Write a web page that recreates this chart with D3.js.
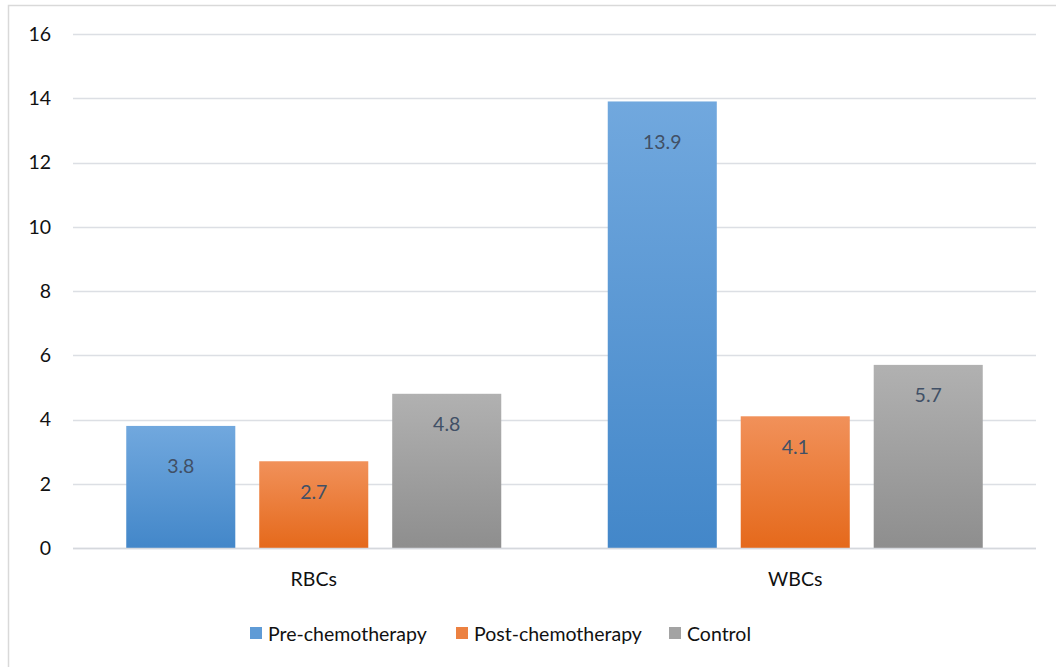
<!DOCTYPE html>
<html><head><meta charset="utf-8">
<script src="https://cdn.jsdelivr.net/npm/d3@7"></script>
<style>html,body{margin:0;padding:0;background:#fff;}svg{display:block;font-family:Lato,"Open Sans",sans-serif;}</style>
</head><body>
<svg id="c" width="1056" height="667"></svg>
<script>
const categories = ["RBCs", "WBCs"];
const seriesNames = ["Pre-chemotherapy", "Post-chemotherapy", "Control"];
const preChemo = [3.8, 13.9];
const postChemo = [2.7, 4.1];
const control = [4.8, 5.7];
const yTicks = [0, 2, 4, 6, 8, 10, 12, 14, 16];

const seriesValues = [preChemo, postChemo, control];
const colorsTop = ["#71a8de", "#f1915a", "#b1b1b1"];
const colorsBot = ["#4387c9", "#e5691b", "#8e8e8e"];
const labelOffset = [40, 30, 30];
const fs = 19.5;

const svg = d3.select("#c");
const m = {left: 73, right: 1036, top: 34, bottom: 548};

// frame
svg.append("rect").attr("x", 8.5).attr("y", 5.5).attr("width", 1100).attr("height", 700)
  .attr("fill", "none").attr("stroke", "#d9d9d9").attr("stroke-width", 1.5);

const defs = svg.append("defs");
seriesNames.forEach((s, i) => {
  const g = defs.append("linearGradient").attr("id", "g" + i)
    .attr("x1", 0).attr("x2", 0).attr("y1", 0).attr("y2", 1);
  g.append("stop").attr("offset", "0%").attr("stop-color", colorsTop[i]);
  g.append("stop").attr("offset", "100%").attr("stop-color", colorsBot[i]);
});

const y = d3.scaleLinear().domain([0, 16]).range([m.bottom, m.top]);
const x0 = d3.scaleBand().domain(categories).range([m.left, m.right]).padding(0);
const groupW = 375;
const x1 = d3.scaleBand().domain(seriesNames)
  .range([(x0.bandwidth() - groupW) / 2, (x0.bandwidth() + groupW) / 2])
  .paddingInner(0.18).paddingOuter(0);

// gridlines
svg.append("g").selectAll("line").data(yTicks).join("line")
  .attr("x1", m.left).attr("x2", m.right)
  .attr("y1", d => Math.round(y(d)) + 0.5).attr("y2", d => Math.round(y(d)) + 0.5)
  .attr("stroke", "#dcdfe4").attr("stroke-width", 1.5);

// y axis labels
const yAxis = d3.axisLeft(y).tickValues(yTicks).tickSize(0).tickPadding(0);
const ya = svg.append("g").attr("transform", "translate(51,0)").call(yAxis);
ya.select(".domain").remove();
ya.selectAll("text").attr("font-size", fs).attr("fill", "#111").attr("font-family", "Lato,sans-serif");

// bars
const groups = svg.append("g").selectAll("g").data(categories).join("g")
  .attr("transform", d => `translate(${x0(d)},0)`);
groups.each(function(cat, ci) {
  const g = d3.select(this);
  seriesNames.forEach((s, si) => {
    const v = seriesValues[si][ci];
    g.append("rect").attr("x", x1(s)).attr("width", x1.bandwidth())
      .attr("y", y(v)).attr("height", y(0) - y(v)).attr("fill", `url(#g${si})`);
    g.append("text").attr("x", x1(s) + x1.bandwidth() / 2).attr("y", y(v) + labelOffset[si])
      .attr("text-anchor", "middle").attr("dominant-baseline", "central")
      .attr("font-size", fs).attr("fill", "#415066").text(v.toFixed(1));
  });
});

// x axis line
svg.append("line").attr("x1", m.left).attr("x2", m.right).attr("y1", m.bottom + 0.5).attr("y2", m.bottom + 0.5)
  .attr("stroke", "#d5d8dd").attr("stroke-width", 1.5);

const xAxis = d3.axisBottom(x0).tickSize(0).tickPadding(0);
const xa = svg.append("g").attr("transform", `translate(0,${m.bottom + 24})`).call(xAxis);
xa.select(".domain").remove();
xa.selectAll("text").attr("font-size", fs).attr("fill", "#111").attr("font-family", "Lato,sans-serif");

// legend
const legendX = [250, 456, 669];
const lg = svg.append("g").selectAll("g").data(seriesNames).join("g")
  .attr("transform", (d, i) => `translate(${legendX[i]},627)`);
lg.append("rect").attr("width", 12).attr("height", 12)
  .attr("fill", (d, i) => d3.interpolateRgb(colorsTop[i], colorsBot[i])(0.4));
lg.append("text").attr("x", 18).attr("y", 6).attr("dominant-baseline", "central")
  .attr("font-size", fs).attr("fill", "#111").text(d => d);
</script>
</body></html>
